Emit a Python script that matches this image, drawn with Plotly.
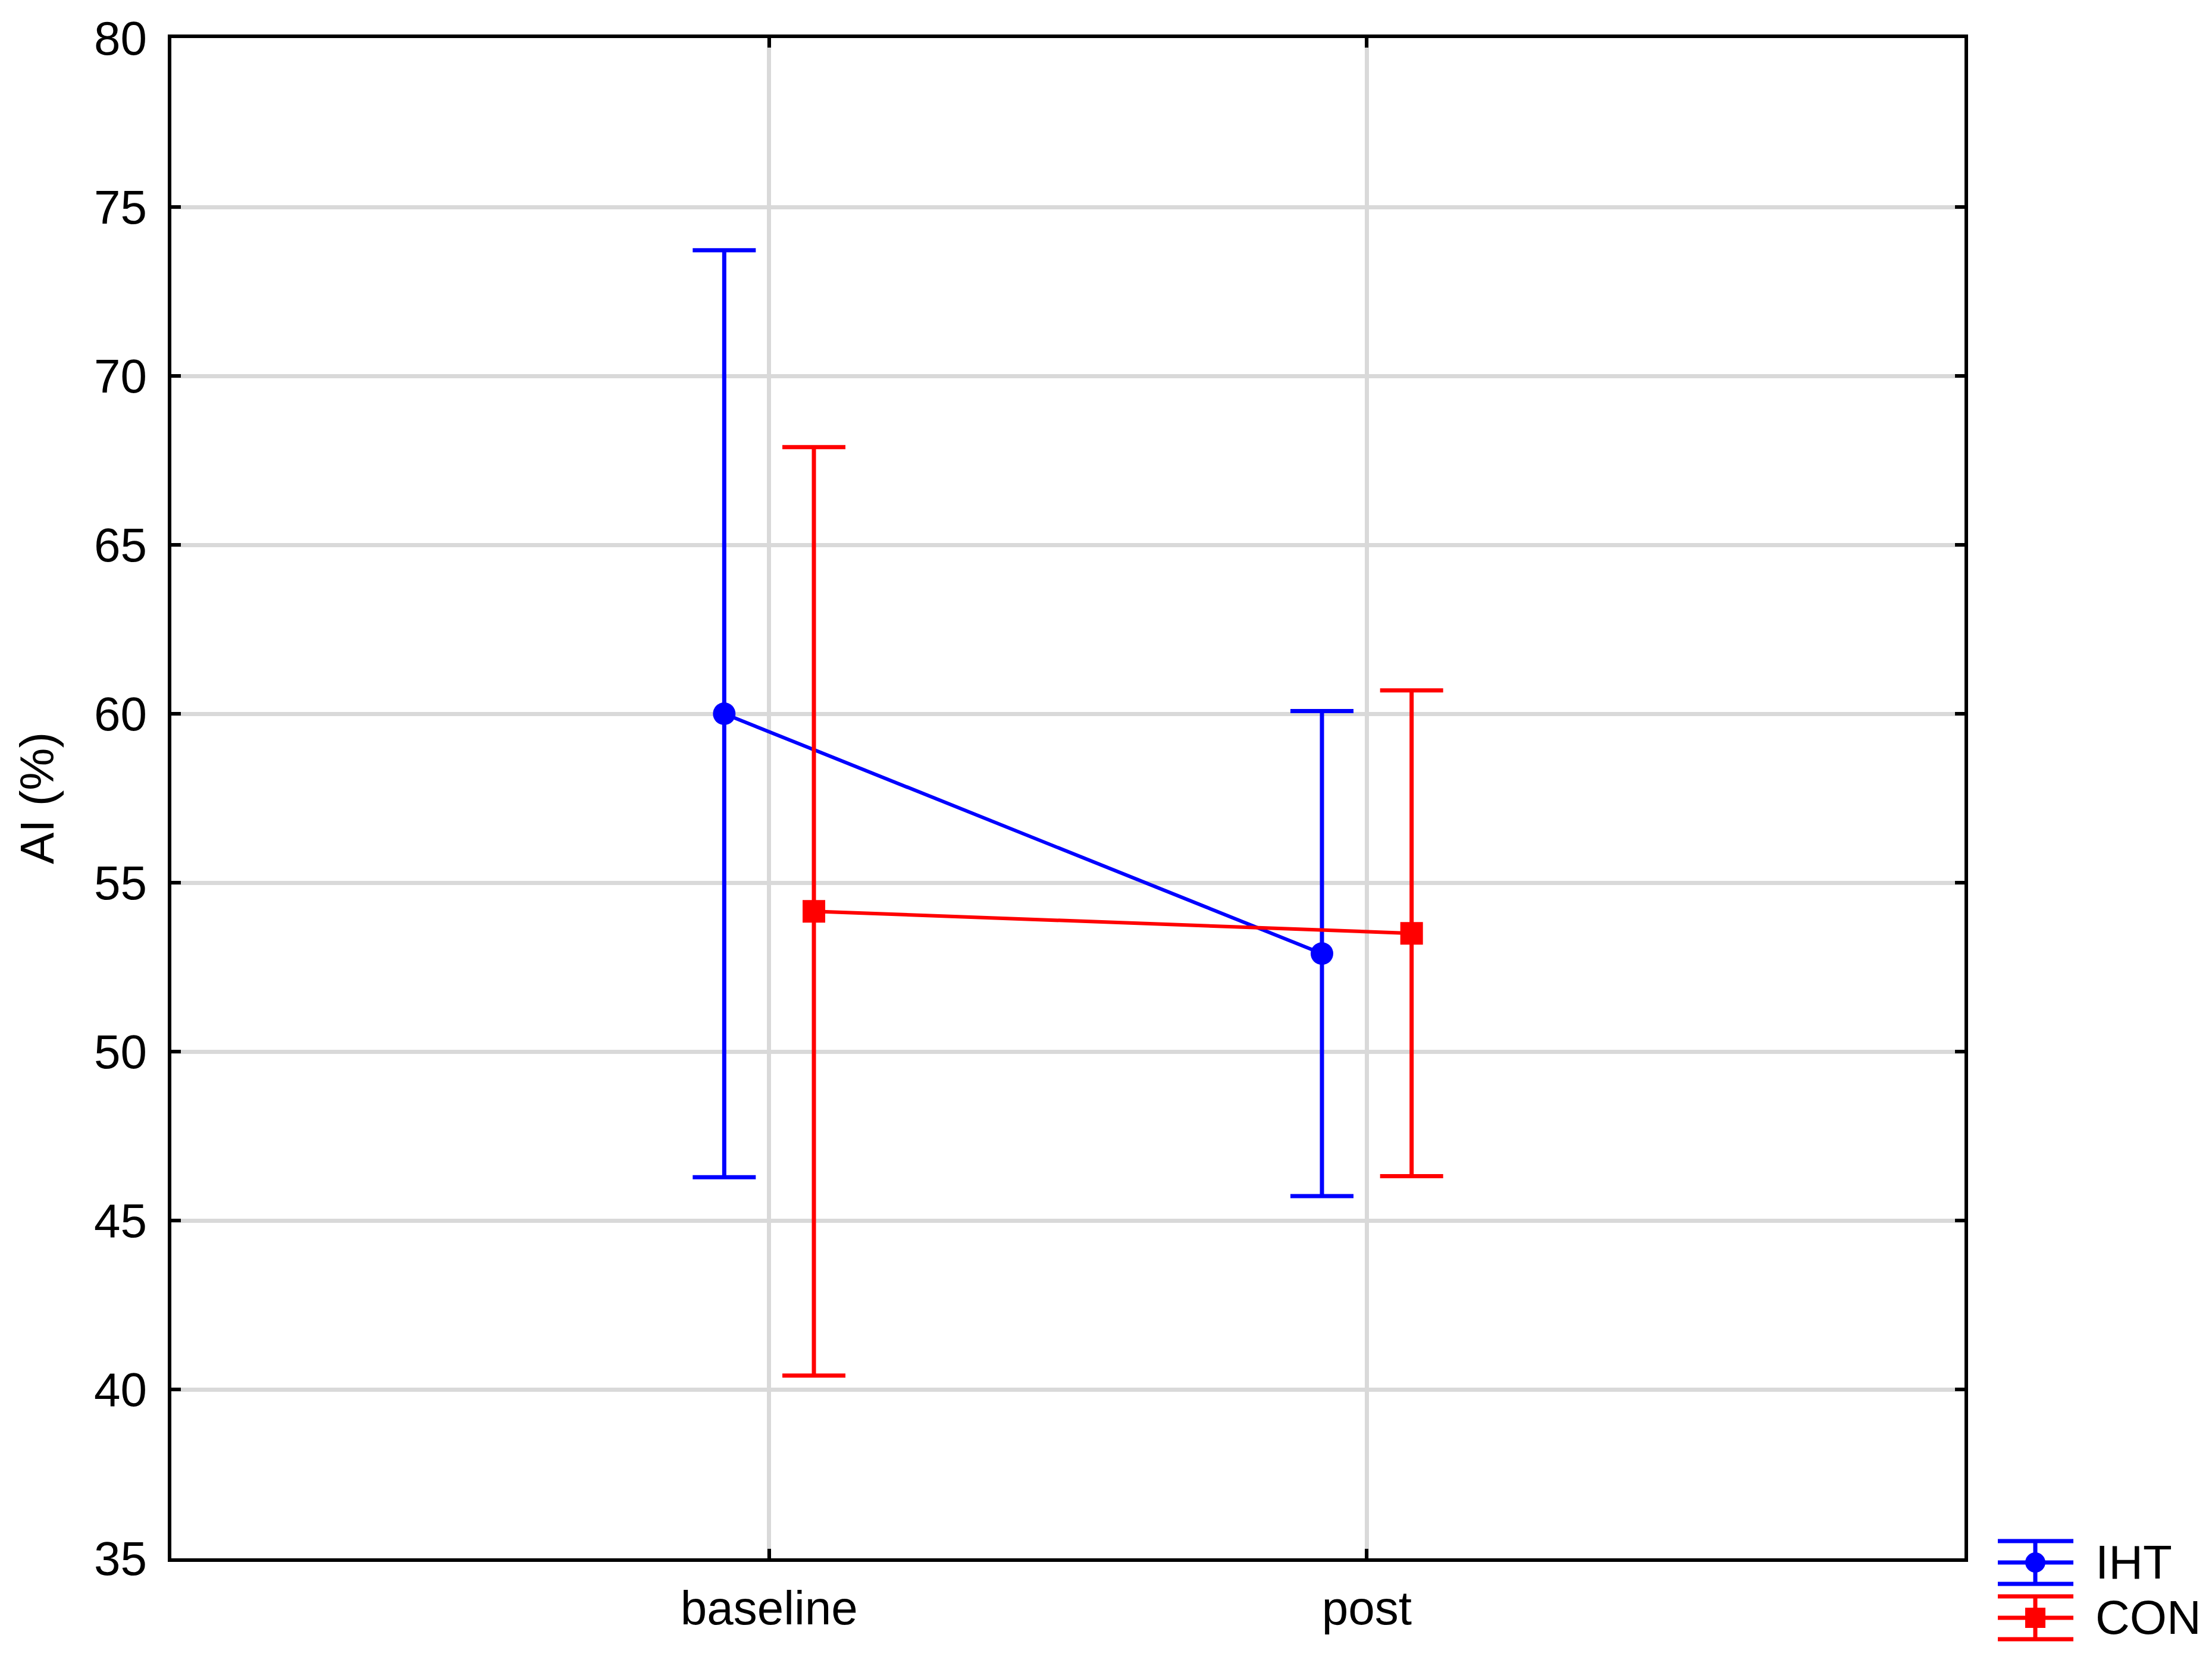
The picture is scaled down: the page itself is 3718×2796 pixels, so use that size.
import plotly.graph_objects as go

# ── data ─────────────────────────────────────────────────────────────────────

categories = ["baseline", "post"]

iht_mean = [60.0, 52.9]
iht_err = [13.72, 7.18]

con_mean = [54.15, 53.5]
con_err = [13.74, 7.19]

y_ticks = [35, 40, 45, 50, 55, 60, 65, 70, 75, 80]

# ── layout constants (page px; the html body adds an 8px margin) ─────────────

PAGE_W, PAGE_H = 3718, 2796
OFF = 8
W, H = PAGE_W - 2 * OFF, PAGE_H - 2 * OFF
# plot frame on the page: x 288..3302, y 62..2620
L, T = 288 - OFF, 62 - OFF
R, B = W - (3302 - OFF), H - (2620 - OFF)
FONT = "Arial, Liberation Sans, sans-serif"
DODGE = 0.075


def px_x(x):
    return (x - OFF - L) / (W - L - R)


def px_y(y):
    return (H - B - (y - OFF)) / (H - T - B)


fig = go.Figure()

series = [
    ("IHT", iht_mean, iht_err, "#0000ff", "circle", -DODGE),
    ("CON", con_mean, con_err, "#ff0000", "square", DODGE),
]

for name, mean, err, color, symbol, off in series:
    xs = [i + off for i in range(len(categories))]
    fig.add_trace(go.Scatter(
        x=xs, y=mean, name=name, mode="lines+markers",
        line=dict(color=color, width=6),
        marker=dict(symbol=symbol, size=38, color=color),
        error_y=dict(type="data", array=err, visible=True,
                     color=color, thickness=7, width=53),
        showlegend=False,
    ))

# ── custom legend with error-bar glyphs ──────────────────────────────────────

legend_rows = [("IHT", "#0000ff", "circle", 2627), ("CON", "#ff0000", "square", 2720)]
shapes = []
annotations = []
for name, color, sym, cy in legend_rows:
    for dy in (-36, 0, 36):
        shapes.append(dict(type="line", xref="paper", yref="paper",
                           x0=px_x(3358), x1=px_x(3485),
                           y0=px_y(cy + dy), y1=px_y(cy + dy),
                           line=dict(color=color, width=7)))
    shapes.append(dict(type="line", xref="paper", yref="paper",
                       x0=px_x(3421), x1=px_x(3421),
                       y0=px_y(cy - 36), y1=px_y(cy + 36),
                       line=dict(color=color, width=7)))
    r = 17
    shapes.append(dict(type="circle" if sym == "circle" else "rect",
                       xref="paper", yref="paper",
                       x0=px_x(3421 - r), x1=px_x(3421 + r),
                       y0=px_y(cy - r), y1=px_y(cy + r),
                       fillcolor=color, line=dict(color=color, width=0)))
    annotations.append(dict(xref="paper", yref="paper", x=px_x(3520), y=px_y(cy),
                            xanchor="left", yanchor="middle", showarrow=False,
                            text=name, font=dict(family=FONT, size=80, color="black")))

fig.update_layout(
    width=W, height=H,
    margin=dict(l=L, r=R, t=T, b=B),
    paper_bgcolor="white", plot_bgcolor="white",
    font=dict(family=FONT, size=80, color="black"),
    shapes=shapes, annotations=annotations,
    showlegend=False,
)

fig.update_xaxes(
    range=[-1, 2], tickvals=list(range(len(categories))), ticktext=categories,
    showgrid=True, gridcolor="#d9d9d9", gridwidth=7,
    showline=True, linecolor="black", linewidth=6, mirror="ticks",
    ticks="inside", ticklen=16, tickwidth=6, tickcolor="black",
    ticklabelstandoff=9, zeroline=False,
)
fig.update_yaxes(
    range=[35, 80], tickvals=y_ticks,
    showgrid=True, gridcolor="#d9d9d9", gridwidth=7,
    showline=True, linecolor="black", linewidth=6, mirror="ticks",
    ticks="inside", ticklen=16, tickwidth=6, tickcolor="black",
    ticklabelstandoff=19, zeroline=False,
    title=dict(text="AI (%)", standoff=43, font=dict(size=80)),
)

fig.write_html("out.html")
